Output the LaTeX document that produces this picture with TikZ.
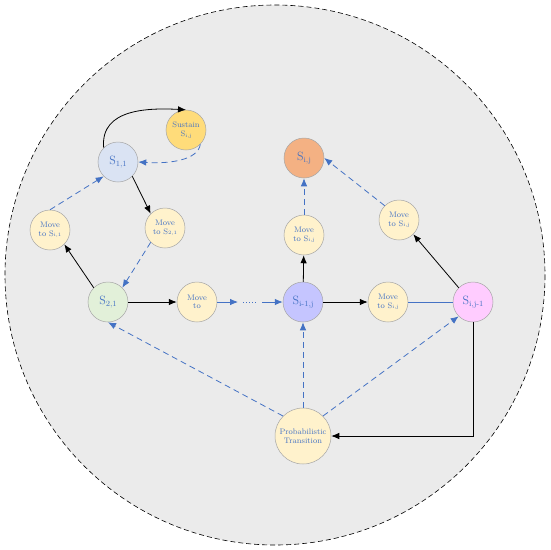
\documentclass[tikz,border=0pt]{standalone}
\usetikzlibrary{arrows.meta}
\definecolor{bg}{HTML}{EBEBEB}
\definecolor{lblue}{HTML}{4472C4}
\definecolor{edge}{HTML}{A6A6A6}
\definecolor{cmove}{HTML}{FFF2CC}
\definecolor{cs11}{HTML}{DAE3F3}
\definecolor{csus}{HTML}{FFDC7A}
\definecolor{cs21}{HTML}{E2F0D9}
\definecolor{csim}{HTML}{C5C5FF}
\definecolor{csij}{HTML}{F4B183}
\definecolor{csijm}{HTML}{FFCCFF}
\newcommand{\sub}[1]{\raisebox{-0.25ex}{\footnotesize #1}}
\newcommand{\ssub}[1]{\raisebox{-0.2ex}{\tiny #1}}
\tikzset{
  st/.style={circle,draw=edge,line width=0.5pt,minimum size=40pt,inner sep=0pt,text=lblue,font=\large,align=center},
  mv/.style={st,fill=cmove,font=\footnotesize\linespread{0.9}\selectfont,align=center},
  blk/.style={black,line width=0.8pt,-{Latex[length=8pt,width=6.5pt]}},
  bl/.style={lblue,line width=0.8pt,dash pattern=on 6pt off 4pt,-{Latex[length=8pt,width=6.5pt]}},
  bls/.style={lblue,line width=0.8pt,-{Latex[length=8pt,width=6.5pt]}},
}
\begin{document}
\begin{tikzpicture}[x=1pt,y=-1pt]
\useasboundingbox (0,0) rectangle (550,550);
\fill[bg] (275,275) circle (270);
\draw[black,dash pattern=on 5pt off 3pt,line width=0.6pt] (275,275) circle (270);

\node[st,fill=cs11] (s11) at (118,162) {S\sub{1,1}};
\node[st,fill=csus,font=\footnotesize] (sus) at (186,130) {Sustain\\S\ssub{i,j}};
\node[mv] (mi1) at (50,230) {Move\\to S\ssub{i,1}};
\node[mv] (m21) at (165,228) {Move\\to S\ssub{2,1}};
\node[st,fill=cs21] (s21) at (108,302) {S\sub{2,1}};
\node[mv] (mto) at (197,302) {Move\\to};
\node[st,fill=csim] (sim) at (303,302) {S\sub{i-1,j}};
\node[mv] (mr) at (388,302) {Move\\to S\ssub{i,j}};
\node[st,fill=csijm] (sjm) at (473,302) {S\sub{i,j-1}};
\node[st,fill=csij] (sij) at (304,158) {S\sub{i,j}};
\node[mv] (mu) at (304,235) {Move\\to S\ssub{i,j}};
\node[mv] (mur) at (399,220) {Move\\to S\ssub{i,j}};
\node[mv,minimum size=56pt] (pt) at (303,436) {Probabilistic\\Transition};

\coordinate (d1) at (238,302);
\coordinate (d2) at (262,302);

\draw[blk] (s11.north west) .. controls (100,108) and (150,108) .. (sus.north);
\draw[bl] (sus.south east) .. controls (198,160) and (170,164) .. (s11.east);
\draw[bl] (mi1.north) -- (s11.south west);
\draw[blk] (s11.south east) -- (m21.north west);
\draw[blk] (s21.north west) -- (mi1.south east);
\draw[bl] (m21.south west) -- (s21.north east);
\draw[blk] (s21) -- (mto);
\draw[bls] (mto) -- (d1);
\draw[lblue,line width=1pt,dotted] (243,302) -- (258,302);
\draw[bls] (d2) -- (sim);
\draw[blk] (sim) -- (mu);
\draw[bl] (mu) -- (sij);
\draw[blk] (sim) -- (mr);
\draw[lblue,line width=0.8pt] (mr) -- (sjm);
\draw[blk] (sjm.north west) -- (mur.south east);
\draw[bl] (mur.north west) -- (sij.east);
\draw[blk] (sjm.south) |- (pt.east);
\draw[bl] (pt.north west) -- (s21.south);
\draw[bl] (pt) -- (sim);
\draw[bl] (pt.north east) -- (sjm.south west);
\end{tikzpicture}
\end{document}
